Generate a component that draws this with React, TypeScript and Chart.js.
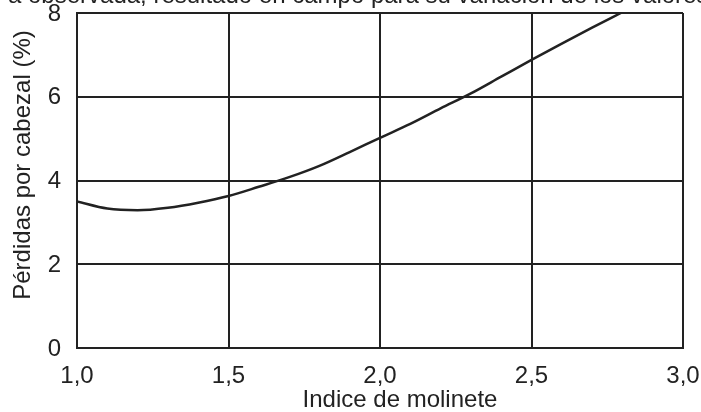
import React, { useEffect, useRef } from "react";
import { Chart, registerables } from "chart.js";

Chart.register(...registerables);

const indiceMolinete = [1.0, 1.1, 1.2, 1.3, 1.4, 1.5, 1.6, 1.7, 1.8, 1.9, 2.0, 2.1, 2.2, 2.3, 2.4, 2.5, 2.6, 2.7, 2.795];
const perdidas = [3.5, 3.33, 3.29, 3.35, 3.47, 3.63, 3.85, 4.08, 4.35, 4.68, 5.02, 5.35, 5.72, 6.08, 6.48, 6.88, 7.27, 7.65, 8.0];
const xTitle = "Indice de molinete";
const yTitle = "Pérdidas por cabezal (%)";
const topText = "a observada, resultado en campo para su variación de los valores";

const FONT = "'Liberation Sans', Arial, sans-serif";
const INK = "#222222";

const textPlugin = {
  id: "extraText",
  afterDraw(chart: any) {
    const ctx = chart.ctx;
    ctx.save();
    ctx.font = `24px ${FONT}`;
    ctx.fillStyle = INK;
    ctx.textBaseline = "alphabetic";
    // clipped caption line at the very top
    ctx.textAlign = "left";
    ctx.fillText(topText, 8, 3);
    // x axis title
    ctx.textAlign = "center";
    ctx.fillText(xTitle, 400, 407);
    // y axis title
    ctx.translate(30, 165);
    ctx.rotate(-Math.PI / 2);
    ctx.fillText(yTitle, 0, 0);
    ctx.restore();
  },
};

export default function App() {
  const ref = useRef<HTMLCanvasElement | null>(null);

  useEffect(() => {
    document.body.style.margin = "0";
    const data = indiceMolinete.map((x, i) => ({ x, y: perdidas[i] }));
    const chart = new Chart(ref.current as HTMLCanvasElement, {
      type: "line",
      data: {
        datasets: [
          {
            data,
            borderColor: INK,
            borderWidth: 2.5,
            pointRadius: 0,
            cubicInterpolationMode: "monotone",
            fill: false,
          },
        ],
      },
      options: {
        animation: false,
        responsive: false,
        maintainAspectRatio: false,
        layout: { padding: { top: 13, right: 18, left: 0, bottom: 0 } },
        plugins: { legend: { display: false }, tooltip: { enabled: false } },
        scales: {
          x: {
            type: "linear",
            min: 1,
            max: 3,
            afterFit: (s: any) => {
              s.height = 64;
              s.paddingLeft = 0;
              s.paddingRight = 0;
              s.paddingTop = 0;
              s.paddingBottom = 0;
            },
            ticks: {
              stepSize: 0.5,
              color: INK,
              font: { family: FONT, size: 24 },
              padding: 14,
              maxRotation: 0,
              callback: (v: any) => Number(v).toFixed(1).replace(".", ","),
            },
            grid: { color: INK, lineWidth: 2, drawTicks: false },
            border: { color: INK, width: 2 },
            title: { display: false },
          },
          y: {
            min: 0,
            max: 8,
            afterFit: (s: any) => {
              s.width = 77;
              s.paddingLeft = 0;
              s.paddingRight = 0;
              s.paddingTop = 0;
              s.paddingBottom = 0;
            },
            ticks: {
              stepSize: 2,
              color: INK,
              font: { family: FONT, size: 24 },
              padding: 16,
              labelOffset: 1,
            },
            grid: { color: INK, lineWidth: 2, drawTicks: false },
            border: { color: INK, width: 2 },
            title: { display: false },
          },
        },
      },
      plugins: [textPlugin],
    } as any);
    return () => chart.destroy();
  }, []);

  return (
    <div style={{ width: 701, height: 412, background: "#fff" }}>
      <canvas ref={ref} width={701} height={412} style={{ display: "block" }} />
    </div>
  );
}
